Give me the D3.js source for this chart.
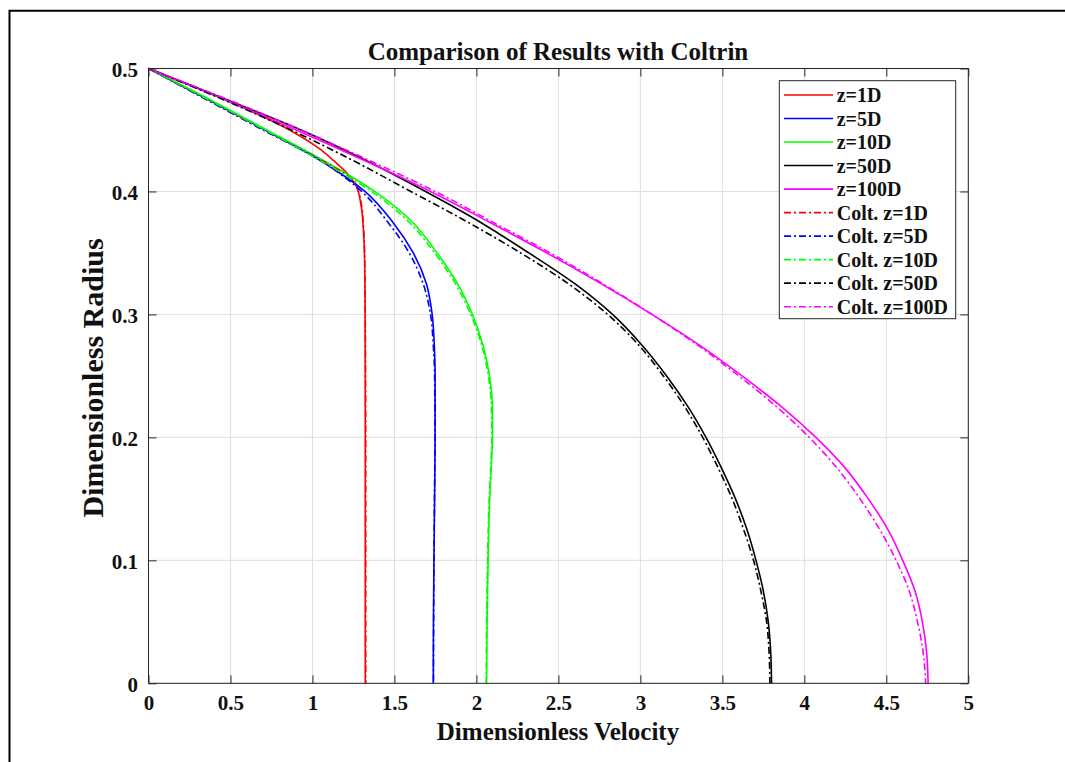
<!DOCTYPE html>
<html>
<head>
<meta charset="utf-8">
<script src="https://cdn.jsdelivr.net/npm/d3@7"></script>
<style>
  html, body { margin: 0; padding: 0; background: #fff; }
  svg { display: block; }
  text { font-family: "Liberation Serif", "Times New Roman", serif; font-weight: bold; fill: #111; }
</style>
</head>
<body>
<svg id="chart" width="1065" height="762"></svg>
<script>
// ---------------- data: pairs of [dimensionless velocity u, dimensionless radius r] ----------------
const seriesNames = ["z=1D","z=5D","z=10D","z=50D","z=100D",
                     "Colt. z=1D","Colt. z=5D","Colt. z=10D","Colt. z=50D","Colt. z=100D"];
const seriesColors = ["#ff0000","#0000ff","#00ff00","#000000","#ff00ff",
                      "#ff0000","#0000ff","#00ff00","#000000","#ff00ff"];

const z1D = [[0,0.5],[0.46,0.475],[0.86,0.45],[1.04,0.435],[1.13,0.425],[1.21,0.415],
             [1.265,0.405],[1.295,0.39],[1.31,0.37],[1.317,0.35],[1.321,0.3],[1.322,0.2],
             [1.322,0.1],[1.322,0]];
const z5D = [[0,0.5],[0.36,0.475],[0.71,0.45],[1.05,0.425],[1.32,0.4],[1.49,0.375],
             [1.615,0.35],[1.695,0.325],[1.73,0.3],[1.743,0.275],[1.748,0.25],[1.748,0.2],
             [1.745,0.15],[1.741,0.1],[1.738,0.05],[1.737,0]];
const z10D = [[0,0.5],[0.37,0.475],[0.72,0.45],[1.07,0.425],[1.38,0.4],[1.61,0.375],
              [1.76,0.35],[1.885,0.325],[1.975,0.3],[2.04,0.275],[2.08,0.25],[2.097,0.225],
              [2.098,0.2],[2.09,0.175],[2.081,0.15],[2.071,0.1],[2.065,0.05],[2.062,0]];
const z50D = [[0,0.5],[0.47,0.475],[0.93,0.45],[1.33,0.425],[1.69,0.4],[1.96,0.38],
              [2.32,0.35],[2.6,0.325],[2.83,0.3],[3.01,0.275],[3.16,0.25],[3.29,0.225],
              [3.4,0.2],[3.495,0.175],[3.58,0.15],[3.65,0.125],[3.705,0.1],[3.75,0.075],
              [3.78,0.05],[3.795,0.025],[3.8,0]];
const z100D = [[0,0.5],[0.46,0.475],[0.9,0.45],[1.32,0.425],[1.72,0.4],[2.08,0.375],
               [2.43,0.35],[2.76,0.325],[3.07,0.3],[3.36,0.275],[3.62,0.25],[3.86,0.225],
               [4.07,0.2],[4.25,0.175],[4.39,0.15],[4.51,0.125],[4.6,0.1],[4.675,0.075],
               [4.72,0.05],[4.746,0.025],[4.755,0]];

const colt1D = [[0,0.5],[0.35,0.475],[0.7,0.45],[1.06,0.425],[1.19,0.415],[1.24,0.41],
                [1.28,0.4],[1.298,0.39],[1.312,0.37],[1.318,0.35],[1.322,0.3],[1.325,0.2],
                [1.325,0.1],[1.325,0]];
const colt5D = [[0,0.5],[0.35,0.475],[0.7,0.45],[1.05,0.425],[1.3,0.4],[1.46,0.375],
                [1.59,0.35],[1.675,0.325],[1.72,0.3],[1.737,0.275],[1.745,0.25],[1.747,0.2],
                [1.744,0.15],[1.741,0.1],[1.739,0.05],[1.738,0]];
const colt10D = [[0,0.5],[0.36,0.475],[0.71,0.45],[1.05,0.425],[1.36,0.4],[1.59,0.375],
                 [1.745,0.35],[1.872,0.325],[1.965,0.3],[2.032,0.275],[2.073,0.25],[2.091,0.225],
                 [2.094,0.2],[2.087,0.175],[2.078,0.15],[2.068,0.1],[2.062,0.05],[2.06,0]];
const colt50D = [[0,0.5],[0.45,0.475],[0.87,0.45],[1.25,0.425],[1.6,0.4],[1.88,0.38],
                 [2.27,0.35],[2.56,0.325],[2.8,0.3],[2.99,0.275],[3.14,0.25],[3.27,0.225],
                 [3.38,0.2],[3.475,0.175],[3.56,0.15],[3.63,0.125],[3.69,0.1],[3.735,0.075],
                 [3.77,0.05],[3.785,0.025],[3.79,0]];
const colt100D = [[0,0.5],[0.48,0.475],[0.93,0.45],[1.35,0.425],[1.75,0.4],[2.1,0.375],
                  [2.45,0.35],[2.77,0.325],[3.07,0.3],[3.35,0.275],[3.6,0.25],[3.83,0.225],
                  [4.03,0.2],[4.2,0.175],[4.34,0.15],[4.46,0.125],[4.56,0.1],[4.64,0.075],
                  [4.69,0.05],[4.725,0.025],[4.74,0]];

const seriesData = [z1D, z5D, z10D, z50D, z100D, colt1D, colt5D, colt10D, colt50D, colt100D];
const seriesDashed = [false,false,false,false,false,true,true,true,true,true];

const xTickValues = [0,0.5,1,1.5,2,2.5,3,3.5,4,4.5,5];
const xTickLabels = ["0","0.5","1","1.5","2","2.5","3","3.5","4","4.5","5"];
const yTickValues = [0,0.1,0.2,0.3,0.4,0.5];
const yTickLabels = ["0","0.1","0.2","0.3","0.4","0.5"];

const titleText = "Comparison of Results with Coltrin";
const xLabelText = "Dimensionless Velocity";
const yLabelText = "Dimensionless Radius";

// ---------------- layout ----------------
const svg = d3.select("#chart");
const L = 148.5, R = 968.3, T = 68.5, B = 683.3;
const x = d3.scaleLinear().domain([0,5]).range([L,R]);
const y = d3.scaleLinear().domain([0,0.5]).range([B,T]);

// outer frame (left + top edges visible)
svg.append("path").attr("d", `M9.5,762 L9.5,10.7 L1065,10.7`)
   .attr("fill","none").attr("stroke","#000").attr("stroke-width",2);

// grid
const grid = svg.append("g");
grid.selectAll("line.vx").data(xTickValues).join("line")
  .attr("x1", d=>x(d)).attr("x2", d=>x(d)).attr("y1",T).attr("y2",B)
  .attr("stroke","#dedede").attr("stroke-width",1);
grid.selectAll("line.hy").data(yTickValues).join("line")
  .attr("y1", d=>y(d)).attr("y2", d=>y(d)).attr("x1",L).attr("x2",R)
  .attr("stroke","#dedede").attr("stroke-width",1);

// series
const line = d3.line().x(d=>x(d[0])).y(d=>y(d[1])).curve(d3.curveMonotoneY);
const plot = svg.append("g");
seriesData.forEach((data,i)=>{
  plot.append("path").datum(data)
    .attr("d", line)
    .attr("fill","none")
    .attr("stroke", seriesColors[i])
    .attr("stroke-width", 1.6)
    .attr("stroke-dasharray", seriesDashed[i] ? "7,3,2,3" : null);
});

// axes
const fx = d=>xTickLabels[xTickValues.indexOf(d)];
const fy = d=>yTickLabels[yTickValues.indexOf(d)];
const ax = svg.append("g").attr("transform",`translate(0,${B})`)
  .call(d3.axisBottom(x).tickValues(xTickValues).tickFormat(fx).tickSizeInner(-8).tickSizeOuter(0).tickPadding(12));
const ay = svg.append("g").attr("transform",`translate(${L},0)`)
  .call(d3.axisLeft(y).tickValues(yTickValues).tickFormat(fy).tickSizeInner(-8).tickSizeOuter(0).tickPadding(10.5));
const at = svg.append("g").attr("transform",`translate(0,${T})`)
  .call(d3.axisTop(x).tickValues(xTickValues).tickFormat("").tickSizeInner(-8).tickSizeOuter(0));
const ar = svg.append("g").attr("transform",`translate(${R},0)`)
  .call(d3.axisRight(y).tickValues(yTickValues).tickFormat("").tickSizeInner(-8).tickSizeOuter(0));
[ax,ay,at,ar].forEach(g=>{
  g.select(".domain").remove();
  g.selectAll(".tick line").attr("stroke","#262626");
  g.selectAll("text").attr("font-size",21).attr("font-family",null).attr("fill","#1a1a1a");
});
ay.selectAll("text").attr("dy","0.4em");

// box
svg.append("rect").attr("x",L).attr("y",T).attr("width",R-L).attr("height",B-T)
  .attr("fill","none").attr("stroke","#262626").attr("stroke-width",1);

// title & labels
svg.append("text").attr("x",558).attr("y",60).attr("text-anchor","middle")
  .attr("font-size",25).text(titleText);
svg.append("text").attr("x",558).attr("y",740).attr("text-anchor","middle")
  .attr("font-size",25).text(xLabelText);
svg.append("text").attr("transform","translate(103,378) rotate(-90)")
  .attr("text-anchor","middle").attr("font-size",30).text(yLabelText);

// legend
const lg = svg.append("g");
lg.append("rect").attr("x",779.3).attr("y",80.7).attr("width",176.4).attr("height",238)
  .attr("fill","#fff").attr("stroke","#262626").attr("stroke-width",1);
seriesNames.forEach((name,i)=>{
  const cy = 95 + i*23.52;
  lg.append("line").attr("x1",784).attr("x2",833).attr("y1",cy).attr("y2",cy)
    .attr("stroke",seriesColors[i]).attr("stroke-width",1.6)
    .attr("stroke-dasharray", seriesDashed[i] ? "7,3,2,3" : null);
  lg.append("text").attr("x",836.7).attr("y",cy).attr("dy","0.35em")
    .attr("font-size",20).text(name);
});
</script>
</body>
</html>
